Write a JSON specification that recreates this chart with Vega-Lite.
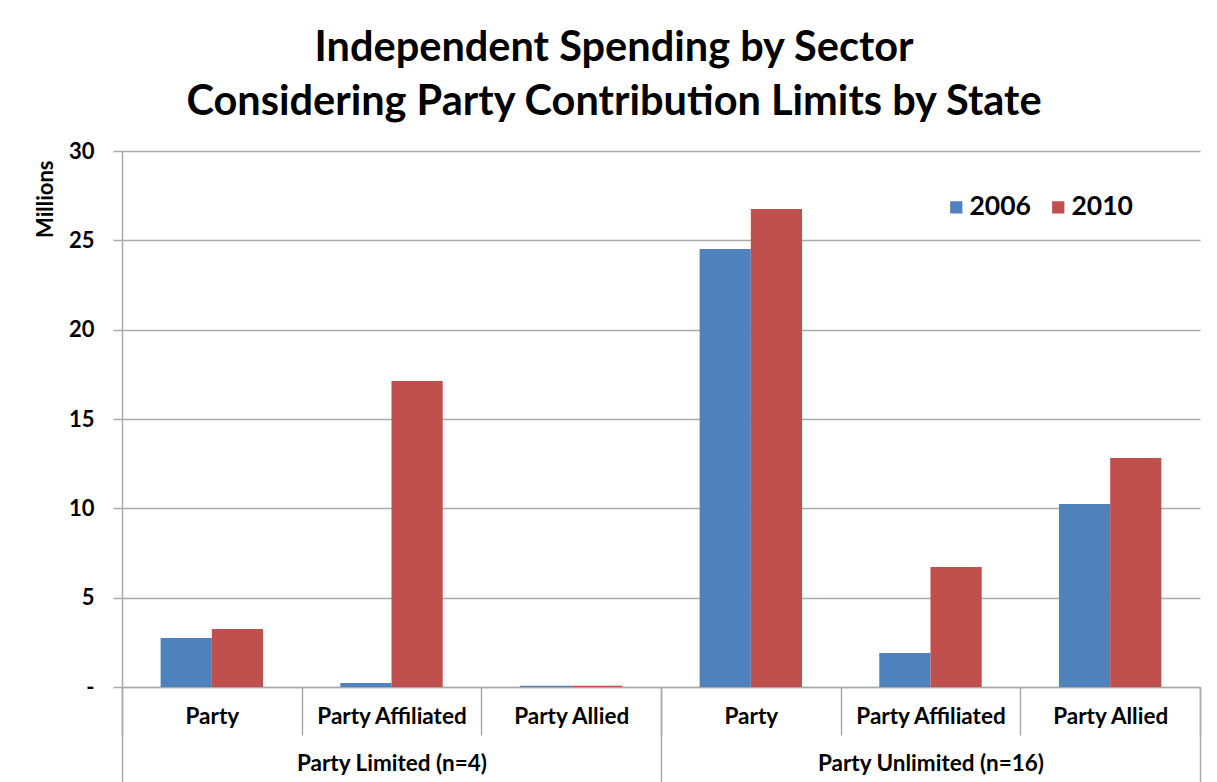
{
  "$schema": "https://vega.github.io/schema/vega-lite/v6.json",
  "width": 1078,
  "height": 536,
  "autosize": {"type": "none"},
  "padding": {"left": 122, "top": 151, "right": 17, "bottom": 95},
  "background": "white",
  "config": {"view": {"stroke": null}, "font": "Lato"},
  "title": {
    "text": ["Independent Spending by Sector", "Considering Party Contribution Limits by State"],
    "font": "Lato",
    "fontSize": 41.5,
    "fontWeight": "bold",
    "color": "black",
    "lineHeight": 54,
    "anchor": "middle",
    "dx": -47,
    "offset": 17
  },
  "data": {
    "values": [
      {"cat": "Party Limited (n=4)|Party", "group": "Party Limited (n=4)", "sector": "Party", "year": "2006", "value": 2.74},
      {"cat": "Party Limited (n=4)|Party", "group": "Party Limited (n=4)", "sector": "Party", "year": "2010", "value": 3.25},
      {"cat": "Party Limited (n=4)|Party Affiliated", "group": "Party Limited (n=4)", "sector": "Party Affiliated", "year": "2006", "value": 0.22},
      {"cat": "Party Limited (n=4)|Party Affiliated", "group": "Party Limited (n=4)", "sector": "Party Affiliated", "year": "2010", "value": 17.12},
      {"cat": "Party Limited (n=4)|Party Allied", "group": "Party Limited (n=4)", "sector": "Party Allied", "year": "2006", "value": 0.07},
      {"cat": "Party Limited (n=4)|Party Allied", "group": "Party Limited (n=4)", "sector": "Party Allied", "year": "2010", "value": 0.07},
      {"cat": "Party Unlimited (n=16)|Party", "group": "Party Unlimited (n=16)", "sector": "Party", "year": "2006", "value": 24.51},
      {"cat": "Party Unlimited (n=16)|Party", "group": "Party Unlimited (n=16)", "sector": "Party", "year": "2010", "value": 26.75},
      {"cat": "Party Unlimited (n=16)|Party Affiliated", "group": "Party Unlimited (n=16)", "sector": "Party Affiliated", "year": "2006", "value": 1.9},
      {"cat": "Party Unlimited (n=16)|Party Affiliated", "group": "Party Unlimited (n=16)", "sector": "Party Affiliated", "year": "2010", "value": 6.72},
      {"cat": "Party Unlimited (n=16)|Party Allied", "group": "Party Unlimited (n=16)", "sector": "Party Allied", "year": "2006", "value": 10.24},
      {"cat": "Party Unlimited (n=16)|Party Allied", "group": "Party Unlimited (n=16)", "sector": "Party Allied", "year": "2010", "value": 12.82}
    ]
  },
  "layer": [
    {
      "mark": {"type": "bar"},
      "encoding": {
        "x": {
          "field": "cat",
          "type": "nominal",
          "sort": null,
          "scale": {"type": "band", "paddingInner": 0, "paddingOuter": 0},
          "axis": {
            "title": null,
            "orient": "bottom",
            "labelExpr": "isString(datum.value) ? split(datum.value, '|')[1] : ''",
            "labelAngle": 0,
            "labelFont": "Lato",
            "labelFontSize": 22.5,
            "labelFontWeight": "bold",
            "labelColor": "black",
            "labelLimit": 0,
            "labelPadding": -30,
            "tickBand": "extent",
            "tickSize": 48,
            "tickColor": "#aaaaaa",
            "tickWidth": 1.5,
            "domainColor": "#aaaaaa",
            "domainWidth": 1.5,
            "grid": false
          }
        },
        "xOffset": {
          "field": "year",
          "type": "nominal",
          "scale": {"paddingInner": 0, "paddingOuter": 0.754}
        },
        "y": {
          "field": "value",
          "type": "quantitative",
          "scale": {"domain": [0, 30], "nice": false},
          "axis": {
            "title": "Millions",
            "titleFont": "Lato",
            "titleFontSize": 22,
            "titleFontWeight": "bold",
            "titleColor": "black",
            "titleAngle": -90,
            "titleAlign": "right",
            "titleBaseline": "middle",
            "titleX": -77,
            "titleY": 9,
            "values": [0, 5, 10, 15, 20, 25, 30],
            "labelExpr": "datum.value == 0 ? '-\u2007\u2007' : datum.label",
            "labelFont": "Lato",
            "labelFontSize": 22,
            "labelFontWeight": "bold",
            "labelColor": "black",
            "labelPadding": 19,
            "tickSize": 9,
            "tickColor": "#aaaaaa",
            "tickWidth": 1.5,
            "domainColor": "#aaaaaa",
            "domainWidth": 1.5,
            "grid": true,
            "gridColor": "#aaaaaa",
            "gridWidth": 1.5
          }
        },
        "color": {
          "field": "year",
          "type": "nominal",
          "scale": {"domain": ["2006", "2010"], "range": ["#4F81BD", "#C0504D"]},
          "legend": {
            "title": null,
            "orient": "none",
            "legendX": 821,
            "legendY": 43,
            "direction": "horizontal",
            "symbolType": "square",
            "symbolSize": 150,
            "symbolStrokeWidth": 0,
            "labelFont": "Lato",
            "labelFontSize": 26.5,
            "labelFontWeight": "bold",
            "labelColor": "black",
            "labelOffset": 0,
            "columnPadding": 14
          }
        }
      }
    },
    {
      "mark": {"type": "rule", "opacity": 0},
      "encoding": {
        "x": {
          "field": "cat",
          "type": "nominal",
          "sort": null,
          "scale": {"type": "band", "paddingInner": 0, "paddingOuter": 0},
          "axis": {
            "title": null,
            "orient": "bottom",
            "labelExpr": "isString(datum.value) && indexof(datum.value, 'Affiliated') >= 0 ? split(datum.value, '|')[0] : ''",
            "labelAngle": 0,
            "labelFont": "Lato",
            "labelFontSize": 22.5,
            "labelFontWeight": "bold",
            "labelColor": "black",
            "labelLimit": 0,
            "labelPadding": -30,
            "tickBand": "extent",
            "tickSize": 95,
            "tickColor": "#aaaaaa",
            "tickWidth": 1.5,
            "tickOpacity": {
              "condition": {"test": "!isString(datum.value) || indexof(datum.value, 'Allied') >= 0", "value": 1},
              "value": 0
            },
            "domain": false,
            "grid": false
          }
        }
      }
    }
  ],
  "resolve": {"axis": {"x": "independent"}}
}
